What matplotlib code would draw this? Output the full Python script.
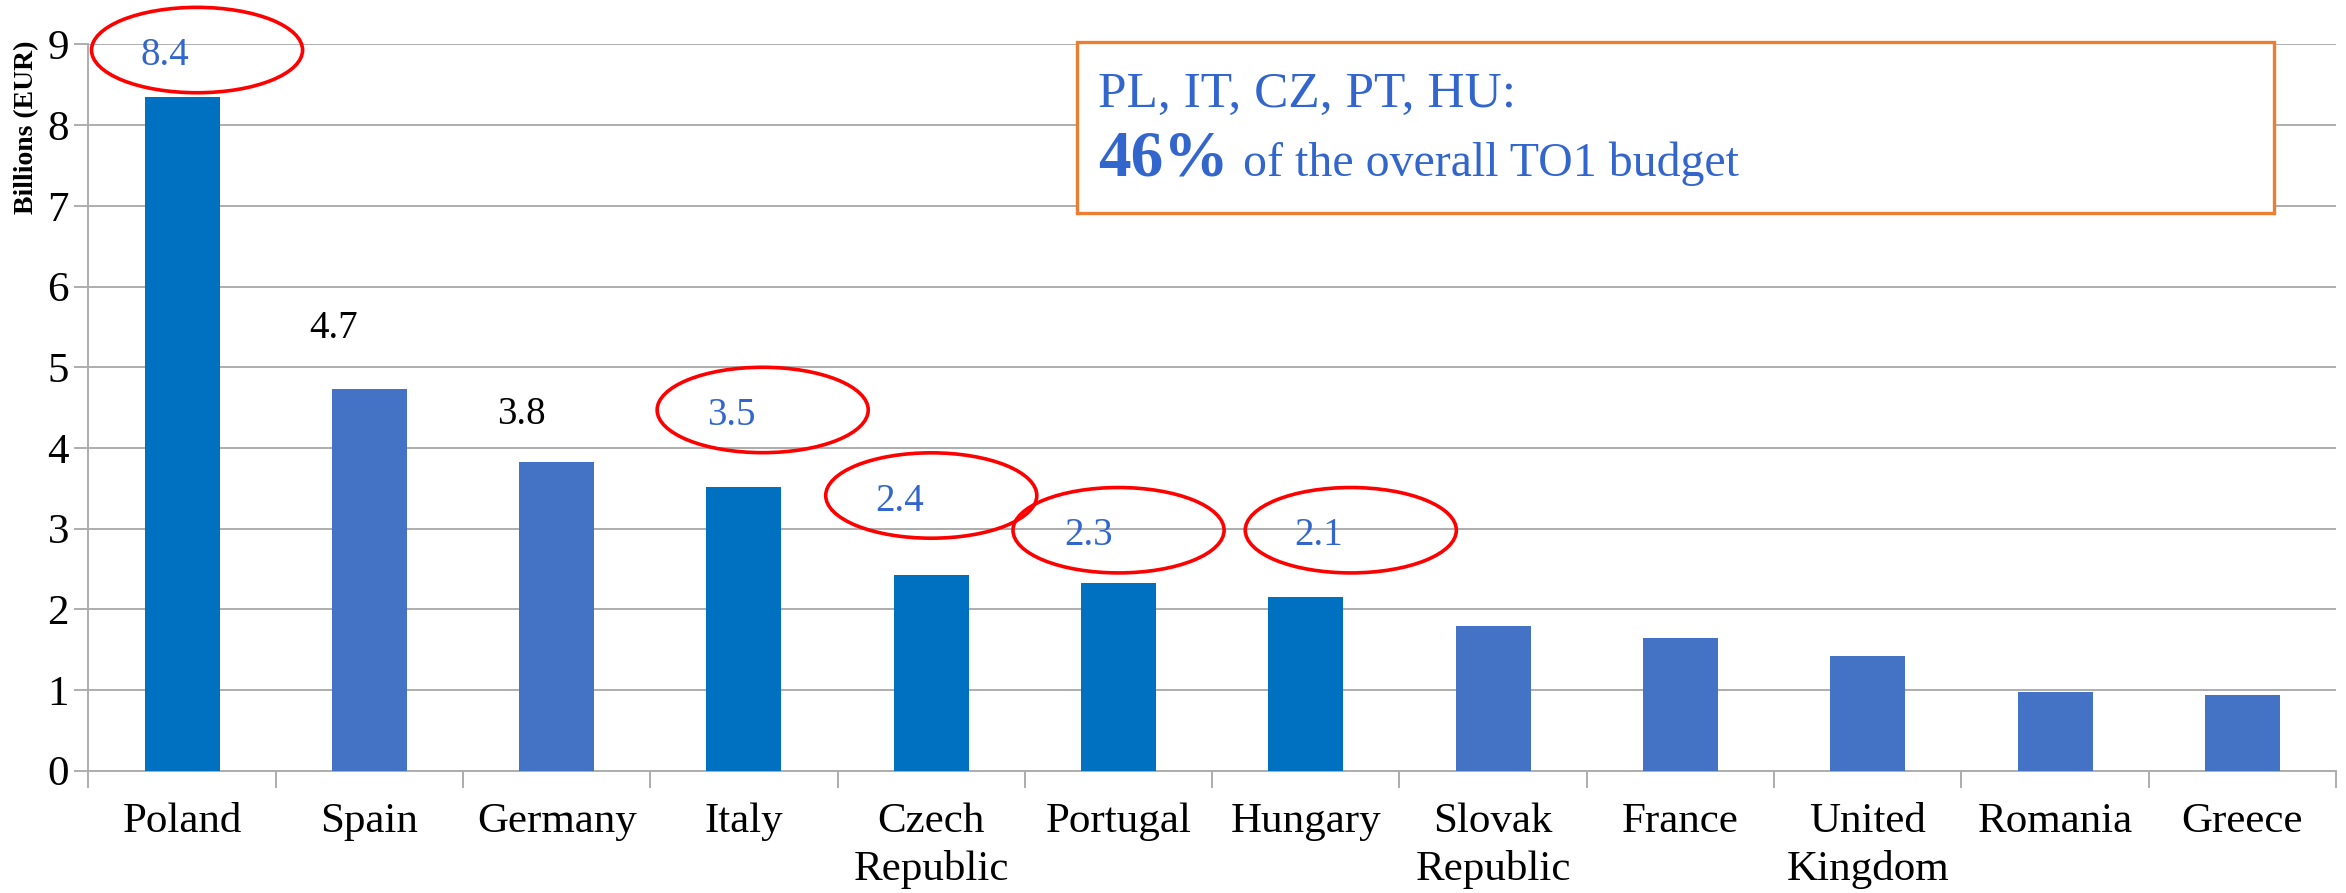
import matplotlib
matplotlib.use("Agg")
import matplotlib.pyplot as plt
from matplotlib.patches import Ellipse, Rectangle
import numpy as np

# data
countries = ['Poland', 'Spain', 'Germany', 'Italy', 'Czech\nRepublic', 'Portugal',
             'Hungary', 'Slovak\nRepublic', 'France', 'United\nKingdom', 'Romania', 'Greece']
budget = [8.35, 4.73, 3.82, 3.51, 2.42, 2.33, 2.15, 1.79, 1.65, 1.42, 0.97, 0.94]
highlight = [True, False, False, True, True, True, True, False, False, False, False, False]

# value labels shown on the chart (only the first seven bars)
label_text = ['8.4', '4.7', '3.8', '3.5', '2.4', '2.3', '2.1']
label_dx = [-0.09, -0.19, -0.19, -0.07, -0.17, -0.16, 0.07]
label_base = [8.75, 5.36, 4.30, 4.28, 3.22, 2.80, 2.80]
circled = [True, False, False, True, True, True, True]
# red ellipses drawn around the circled labels (centre offsets in data units)
ell_dx = [0.08, None, None, 0.10, 0.0, 0.0, 0.24]
ell_y = [8.93, None, None, 4.47, 3.41, 2.98, 2.98]

DARK = '#0070C0'
MID = '#4472C4'
TXT_BLUE = '#3366CC'
GRID = '#ADADAD'

plt.rcParams['font.family'] = ['Liberation Serif', 'DejaVu Serif']

fig = plt.figure(figsize=(23.46, 8.93), dpi=100)
ax = fig.add_axes([88.4 / 2346, 1 - 770.7 / 893, (2336 - 88.4) / 2346, (770.7 - 44.4) / 893])

x = np.arange(len(countries))
colors = [DARK if h else MID for h in highlight]
ax.bar(x, budget, width=0.4, color=colors, zorder=3)

ax.set_xlim(-0.5, len(countries) - 0.5)
ax.set_ylim(0, 9)
ax.set_yticks(range(0, 10))
ax.yaxis.grid(True, color=GRID, linewidth=1.4, zorder=0)

ax.set_xticks(x)
ax.set_xticklabels(countries, fontsize=31, linespacing=1.3)
ax.set_xticks(np.arange(-0.5, len(countries)), minor=True)
ax.tick_params(axis='x', which='major', length=0, pad=23)
ax.tick_params(axis='x', which='minor', length=12, width=1.4, color=GRID)
ax.tick_params(axis='y', length=10, width=1.4, color=GRID, labelsize=31, pad=4)

for s in ['top', 'right']:
    ax.spines[s].set_visible(False)
for s in ['left', 'bottom']:
    ax.spines[s].set_color(GRID)
    ax.spines[s].set_linewidth(1.4)

# value labels and ellipses
for i, txt in enumerate(label_text):
    col = TXT_BLUE if circled[i] else 'black'
    ax.text(i + label_dx[i], label_base[i], txt, ha='center', va='baseline',
            fontsize=28, color=col, zorder=5)
    if circled[i]:
        e = Ellipse((i + ell_dx[i], ell_y[i]), 1.127, 1.058, fill=False,
                    edgecolor='red', linewidth=2.6, zorder=6, clip_on=False)
        ax.add_patch(e)

# y axis label
fig.text(27 / 2346, 1 - 127.5 / 893, 'Billions (EUR)', rotation=90, ha='center',
         va='center', fontsize=20, fontweight='bold')

# annotation box
bx0, bx1, by0, by1 = 1077, 2274, 42, 213
box = Rectangle((bx0 / 2346, 1 - by1 / 893), (bx1 - bx0) / 2346, (by1 - by0) / 893,
                transform=fig.transFigure, facecolor='white', edgecolor='#ED7D31',
                linewidth=2.4, zorder=10)
fig.add_artist(box)
fig.text(1098 / 2346, 1 - 107 / 893, 'PL, IT, CZ, PT, HU:', fontsize=37,
         color=TXT_BLUE, va='baseline', ha='left', zorder=11)
t46 = fig.text(1098 / 2346, 1 - 176 / 893, '46%', fontsize=47, fontweight='bold',
               color=TXT_BLUE, va='baseline', ha='left', zorder=11)
fig.canvas.draw()
bb = t46.get_window_extent()
fig.text(bb.x1 / 2346 + 14 / 2346, 1 - 176 / 893, 'of the overall TO1 budget', fontsize=34.5,
         color=TXT_BLUE, va='baseline', ha='left', zorder=11)

fig.savefig('out.png', dpi=100)
